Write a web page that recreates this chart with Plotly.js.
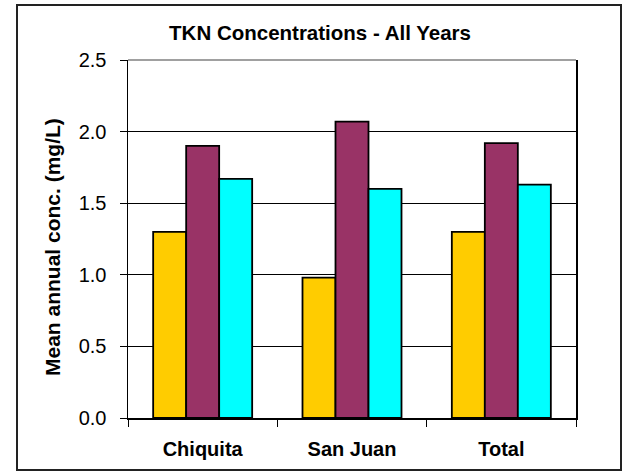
<!DOCTYPE html>
<html>
<head>
<meta charset="utf-8">
<script src="https://cdn.plot.ly/plotly-3.0.1.min.js"></script>
<style>
html,body{margin:0;padding:0;background:#fff;}
#chart{width:623px;height:472px;}
</style>
</head>
<body>
<div id="chart"></div>
<script>
const categories = ["Chiquita", "San Juan", "Total"];
const seriesA = [1.30, 0.98, 1.30];
const seriesB = [1.90, 2.07, 1.92];
const seriesC = [1.67, 1.60, 1.63];
const yTicks = [0, 0.5, 1.0, 1.5, 2.0, 2.5];
const yTickLabels = ["0.0", "0.5", "1.0", "1.5", "2.0", "2.5"];
const yTitle = "Mean annual conc. (mg/L)";

const colors = ["#FFCC00", "#993366", "#00FFFF"];
const FONT = "Liberation Sans, Arial, sans-serif";
const mk = (y, c) => ({
  type: "bar", x: categories, y: y,
  marker: {color: c, line: {color: "#000", width: 1.8}},
  hoverinfo: "none"
});

const W = 623, H = 472, L = 128, R = 47, T = 60, B = 54;
const pw = W - L - R, ph = H - T - B;
const px = v => (v - L) / pw;
const py = v => (H - B - v) / ph;

const layout = {
  width: W, height: H,
  margin: {l: L, r: R, t: T, b: B, pad: 0},
  paper_bgcolor: "#fff", plot_bgcolor: "#fff",
  showlegend: false,
  barmode: "group", bargap: 0.337, bargroupgap: 0,
  font: {family: FONT, color: "#000"},
  title: {
    text: "<b>TKN Concentrations - All Years</b>",
    font: {size: 20.5, family: FONT, color: "#000"},
    x: 320 / W, xref: "container", xanchor: "center",
    y: 1 - 33 / H, yref: "container", yanchor: "middle"
  },
  xaxis: {
    type: "category",
    tickson: "boundaries",
    ticks: "outside", ticklen: 7, tickcolor: "#000", tickwidth: 1,
    showline: true, linecolor: "#000", linewidth: 1.5,
    showgrid: false, zeroline: false,
    tickfont: {size: 20, family: FONT, color: "#000"},
    tickprefix: "<b>", ticksuffix: "</b>",
    ticklabelstandoff: 12,
    fixedrange: true
  },
  yaxis: {
    range: [0, 2.5],
    tickvals: yTicks, ticktext: yTickLabels,
    ticks: "outside", ticklen: 7, tickcolor: "#000", tickwidth: 1,
    showline: true, linecolor: "#000", linewidth: 1.5, mirror: true,
    showgrid: true, gridcolor: "#000", gridwidth: 1,
    zeroline: false,
    tickfont: {size: 20, family: FONT, color: "#000"},
    ticklabelstandoff: 9,
    fixedrange: true
  },
  annotations: [{
    text: "<b>" + yTitle + "</b>",
    xref: "paper", yref: "paper",
    x: px(52), y: py(247),
    xanchor: "center", yanchor: "middle",
    textangle: -90, showarrow: false,
    font: {size: 21, family: FONT, color: "#000"}
  }],
  shapes: [{
    type: "rect", xref: "paper", yref: "paper",
    x0: px(17), x1: px(621), y0: py(470), y1: py(5),
    line: {color: "#222", width: 2}, fillcolor: "rgba(0,0,0,0)", layer: "below"
  }, {
    type: "line", xref: "paper", yref: "paper",
    x0: 0, x1: 1, y0: 1, y1: 1,
    line: {color: "#808080", width: 1.5}
  }]
};

Plotly.newPlot("chart", [mk(seriesA, colors[0]), mk(seriesB, colors[1]), mk(seriesC, colors[2])], layout, {staticPlot: true, displayModeBar: false});
</script>
</body>
</html>
